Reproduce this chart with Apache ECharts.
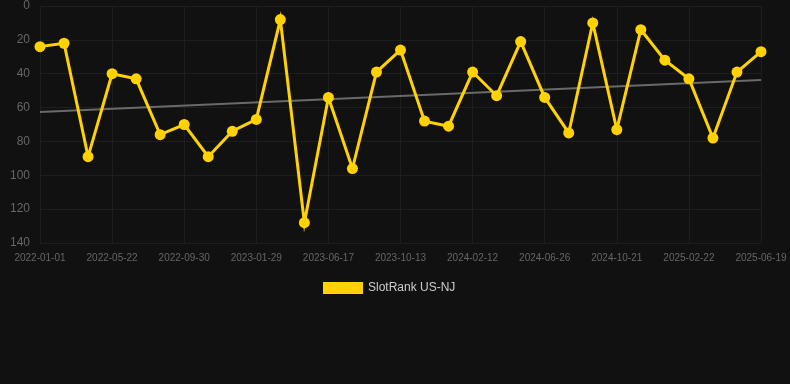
<!DOCTYPE html>
<html>
<head>
<meta charset="utf-8">
<script src="https://cdn.jsdelivr.net/npm/echarts@6/dist/echarts.min.js"></script>
<style>
html,body{margin:0;padding:0;background:#111111;}
#chart{width:790px;height:384px;}
</style>
</head>
<body>
<div id="chart"></div>
<script>
var categories = ['2022-01-01','2022-02-17','2022-04-05','2022-05-22','2022-07-08','2022-08-24','2022-09-30','2022-11-08','2022-12-19','2023-01-29','2023-03-18','2023-05-02','2023-06-17','2023-07-28','2023-09-01','2023-10-13','2023-11-24','2024-01-02','2024-02-12','2024-03-28','2024-05-12','2024-06-26','2024-08-08','2024-09-15','2024-10-21','2024-12-04','2025-01-13','2025-02-22','2025-04-05','2025-05-12','2025-06-19'];
var rankValues = [24,22,89,40,43,76,70,89,74,67,8,128,54,96,39,26,68,71,39,53,21,54,75,10,73,14,32,43,78,39,27];
var trendStart = 62.6;
var trendEnd = 43.7;
var yTicks = {min:0, max:140, interval:20};

var trendData = [[categories[0], trendStart],[categories[categories.length-1], trendEnd]];

var chart = echarts.init(document.getElementById('chart'), null, {renderer:'canvas'});
chart.setOption({
  backgroundColor:'#111111',
  animation:false,
  grid:{left:40, right:29, top:6, bottom:141, containLabel:false},
  legend:{
    data:['SlotRank US-NJ'],
    top:277, left:318,
    itemWidth:40, itemHeight:12,
    textStyle:{color:'#cccccc', fontSize:12, fontFamily:'Liberation Sans, Arial, sans-serif'},
    icon:'rect'
  },
  xAxis:{
    type:'category', data:categories, boundaryGap:false,
    axisLine:{show:false}, axisTick:{show:false},
    axisLabel:{interval:2, color:'#666666', fontSize:10, margin:10, fontFamily:'Liberation Sans, Arial, sans-serif'},
    splitLine:{show:true, interval:2, lineStyle:{color:'#1e1e1e', width:1}}
  },
  yAxis:{
    type:'value', inverse:true, min:yTicks.min, max:yTicks.max, interval:yTicks.interval,
    axisLine:{show:false}, axisTick:{show:false},
    axisLabel:{color:'#666666', fontSize:12, margin:10, fontFamily:'Liberation Sans, Arial, sans-serif'},
    splitLine:{show:true, lineStyle:{color:'#1e1e1e', width:1}}
  },
  series:[
    {
      name:'SlotRank US-NJ', type:'line', data:rankValues,
      symbol:'circle', symbolSize:11,
      itemStyle:{color:'#ffd200'},
      lineStyle:{color:'#ffd200', width:3, join:'miter', miterLimit:10},
      z:3
    },
    {
      name:'trend', type:'line', data:trendData,
      symbol:'none', silent:true,
      lineStyle:{color:'#6a6a6a', width:2},
      z:2
    }
  ]
});
</script>
</body>
</html>
